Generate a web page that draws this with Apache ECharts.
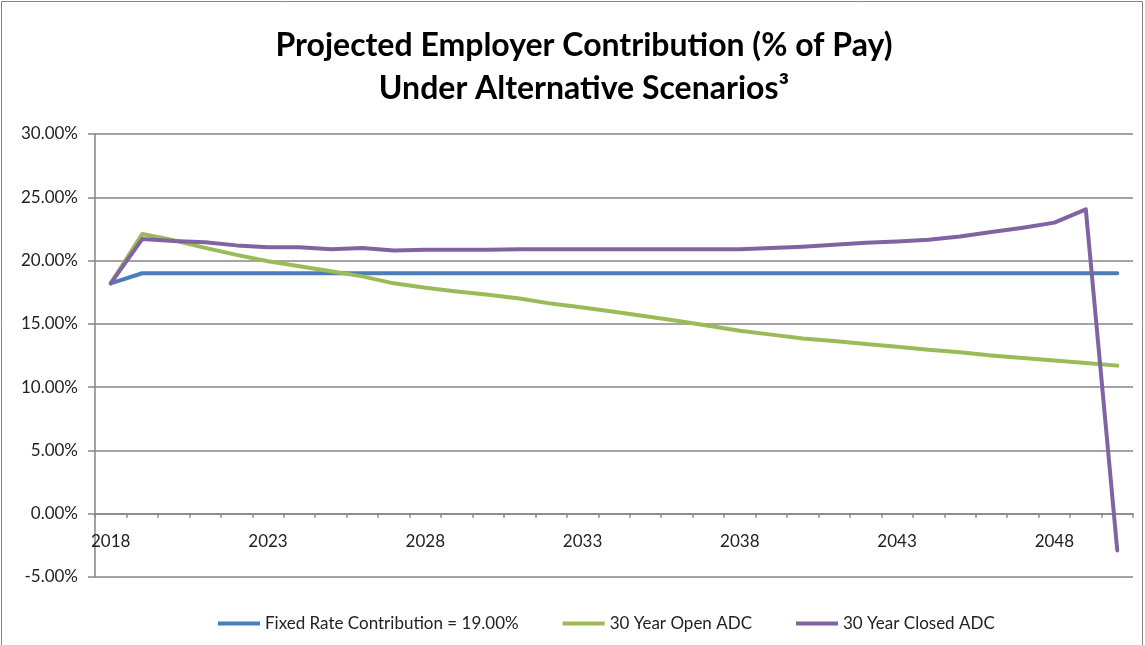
<!DOCTYPE html>
<html>
<head>
<meta charset="utf-8">
<script src="https://cdn.jsdelivr.net/npm/echarts@6/dist/echarts.min.js"></script>
<style>
html,body{margin:0;padding:0;background:#fff;}
#chart{width:1145px;height:645px;}
</style>
</head>
<body>
<div id="chart"></div>
<script>
const years = [];
for (let y = 2018; y <= 2050; y++) years.push(String(y));

const seriesNames = ['Fixed Rate Contribution = 19.00%', '30 Year Open ADC', '30 Year Closed ADC'];

const fixedRate = [18.2, 19.0, 19.0, 19.0, 19.0, 19.0, 19.0, 19.0, 19.0, 19.0, 19.0,
  19.0, 19.0, 19.0, 19.0, 19.0, 19.0, 19.0, 19.0, 19.0, 19.0, 19.0,
  19.0, 19.0, 19.0, 19.0, 19.0, 19.0, 19.0, 19.0, 19.0, 19.0, 19.0];

const openADC = [18.2, 22.1, 21.6, 21.0, 20.45, 19.95, 19.55, 19.15, 18.75, 18.2, 17.85,
  17.55, 17.3, 17.0, 16.6, 16.3, 15.95, 15.6, 15.25, 14.85, 14.45, 14.15,
  13.85, 13.65, 13.4, 13.2, 12.95, 12.75, 12.5, 12.3, 12.1, 11.9, 11.7];

const closedADC = [18.2, 21.7, 21.55, 21.45, 21.2, 21.05, 21.05, 20.9, 21.0, 20.8, 20.85,
  20.85, 20.85, 20.9, 20.9, 20.9, 20.9, 20.9, 20.9, 20.9, 20.9, 21.0,
  21.1, 21.25, 21.4, 21.5, 21.65, 21.9, 22.25, 22.6, 23.0, 24.05, -2.9];

const colors = ['#4A7EBB', '#9BBB59', '#8064A2'];
const font = 'Lato, "Open Sans", sans-serif';

const yMin = -5, yMax = 30;
const gridTop = 134, gridBottom = 68, chartH = 645;
const plotH = chartH - gridTop - gridBottom;
const zeroOffset = -plotH * (0 - yMin) / (yMax - yMin);

const chart = echarts.init(document.getElementById('chart'), null, {renderer: 'canvas'});
chart.setOption({
  animation: false,
  backgroundColor: '#fff',
  color: colors,
  title: {
    text: 'Projected Employer Contribution (% of Pay)\nUnder Alternative Scenarios³',
    left: 579,
    textAlign: 'center',
    top: 19,
    textStyle: {fontFamily: font, fontSize: 32, fontWeight: 'bold', color: '#000', lineHeight: 43}
  },
  graphic: [{
    type: 'rect',
    shape: {x: 1.5, y: 1.5, width: 1141, height: 660},
    style: {fill: 'none', stroke: '#868686', lineWidth: 1},
    silent: true
  }],
  legend: {
    top: 610,
    left: 213,
    itemWidth: 42,
    itemHeight: 4,
    itemGap: 44,
    icon: 'rect',
    textStyle: {fontFamily: font, fontSize: 17, color: '#222'},
    data: seriesNames
  },
  grid: {left: 95, right: 12, top: gridTop, bottom: gridBottom, containLabel: false},
  xAxis: {
    type: 'category',
    data: years,
    boundaryGap: true,
    offset: zeroOffset,
    axisLine: {onZero: false, lineStyle: {color: '#868686', width: 1.5}},
    axisTick: {show: true, interval: 0, length: 4, lineStyle: {color: '#868686', width: 1.5}},
    axisLabel: {interval: 4, margin: 19, fontFamily: font, fontSize: 17, color: '#222'},
    splitLine: {show: false}
  },
  yAxis: {
    type: 'value',
    min: yMin, max: yMax, interval: 5,
    axisLine: {show: true, lineStyle: {color: '#868686', width: 1.5}},
    axisTick: {show: true, length: 7, lineStyle: {color: '#868686', width: 1.5}},
    axisLabel: {margin: 17, fontFamily: font, fontSize: 17, color: '#222',
      formatter: v => v.toFixed(2) + '%'},
    splitLine: {show: true, lineStyle: {color: '#868686', width: 1.5}}
  },
  series: [
    {name: seriesNames[0], type: 'line', data: fixedRate, showSymbol: false, symbol: 'none', lineStyle: {width: 4, color: colors[0], cap: 'round', join: 'round'}},
    {name: seriesNames[1], type: 'line', data: openADC, showSymbol: false, symbol: 'none', lineStyle: {width: 4, color: colors[1], cap: 'round', join: 'round'}},
    {name: seriesNames[2], type: 'line', data: closedADC, showSymbol: false, symbol: 'none', lineStyle: {width: 4, color: colors[2], cap: 'round', join: 'round'}}
  ]
});
</script>
</body>
</html>
